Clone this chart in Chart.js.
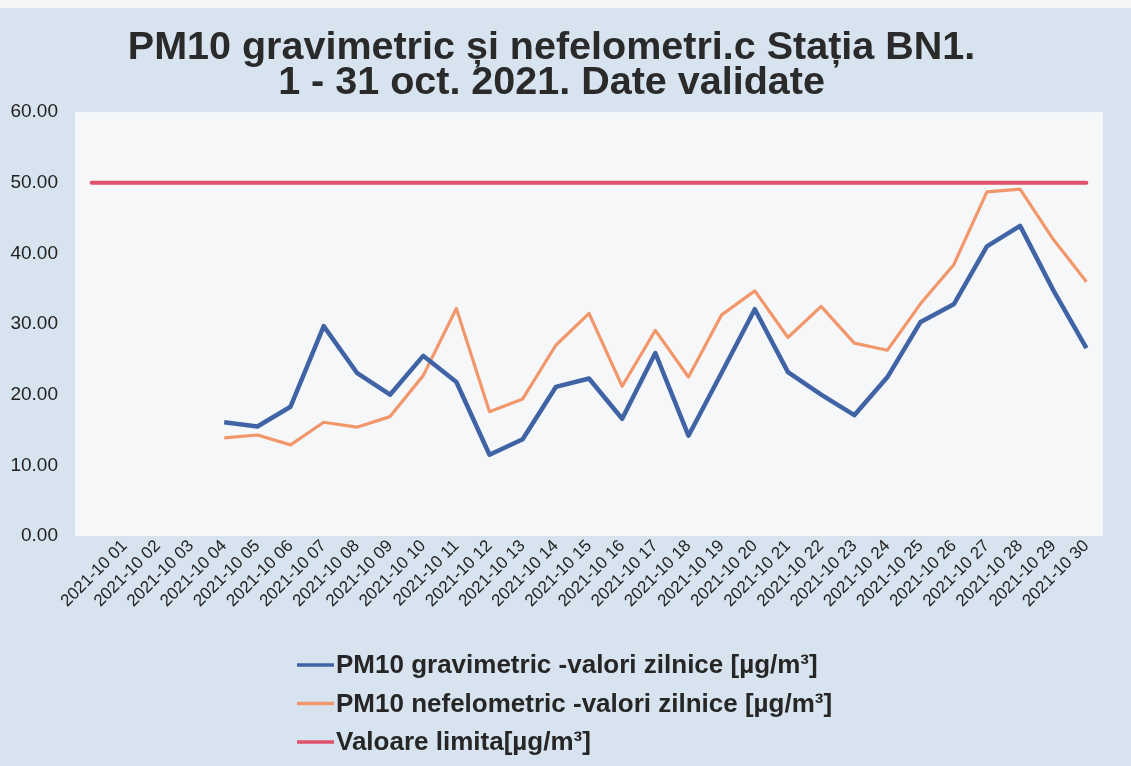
<!DOCTYPE html>
<html>
<head>
<meta charset="utf-8">
<script src="https://cdn.jsdelivr.net/npm/chart.js@4.4.0/dist/chart.umd.min.js"></script>
<style>
  html, body { margin: 0; padding: 0; background: #d7e3ee; }
  #wrap { position: relative; width: 1131px; height: 766px; }
  canvas { display: block; }
</style>
</head>
<body>
<div id="wrap"><canvas id="c" width="1131" height="766"></canvas></div>
<script>
// ---- data ----
const categories = ['',
  '2021-10 01','2021-10 02','2021-10 03','2021-10 04','2021-10 05','2021-10 06',
  '2021-10 07','2021-10 08','2021-10 09','2021-10 10','2021-10 11','2021-10 12',
  '2021-10 13','2021-10 14','2021-10 15','2021-10 16','2021-10 17','2021-10 18',
  '2021-10 19','2021-10 20','2021-10 21','2021-10 22','2021-10 23','2021-10 24',
  '2021-10 25','2021-10 26','2021-10 27','2021-10 28','2021-10 29','2021-10 30'];

const gravimetric = [null, null, null, null,
  16.1, 15.5, 18.3, 29.7, 23.1, 20.0, 25.5, 21.8, 11.5, 13.7, 21.1, 22.3,
  16.6, 25.9, 14.2, 23.1, 32.1, 23.2, 20.0, 17.1, 22.5, 30.3, 32.8, 41.0,
  43.9, 34.8, 26.6];

const nefelometric = [null, null, null, null,
  13.9, 14.3, 12.9, 16.1, 15.4, 16.9, 22.7, 32.2, 17.6, 19.4, 27.0, 31.5,
  21.2, 29.1, 22.5, 31.3, 34.7, 28.1, 32.5, 27.3, 26.3, 32.9, 38.4, 48.7,
  49.1, 42.0, 36.0];

const limita = [50, 50, 50, 50, 50, 50, 50, 50, 50, 50, 50, 50, 50, 50, 50, 50,
  50, 50, 50, 50, 50, 50, 50, 50, 50, 50, 50, 50, 50, 50, 50];

const seriesLabels = [
  'PM10 gravimetric -valori zilnice [µg/m³]',
  'PM10 nefelometric -valori zilnice [µg/m³]',
  'Valoare limita[µg/m³]'
];

const titleLines = [
  'PM10 gravimetric și nefelometri.c Stația BN1.',
  '1 - 31 oct. 2021. Date validate'
];

const FONT = '"Liberation Sans", Arial, sans-serif';

// ---- plugins ----
const bgPlugin = {
  id: 'bg',
  beforeDraw(chart) {
    const { ctx, chartArea: a } = chart;
    ctx.save();
    ctx.fillStyle = '#d7e3ee';
    ctx.fillRect(0, 0, chart.width, chart.height);
    ctx.fillStyle = '#f4f6f8';
    ctx.fillRect(0, 0, chart.width, 8);
    ctx.fillStyle = '#f6f7f8';
    ctx.fillRect(a.left, a.top, a.right - a.left, a.bottom - a.top);
    ctx.restore();
  }
};

const listLegend = {
  id: 'listLegend',
  afterDraw(chart) {
    const ctx = chart.ctx;
    ctx.save();
    ctx.font = 'bold 26px ' + FONT;
    ctx.textBaseline = 'middle';
    ctx.textAlign = 'left';
    chart.data.datasets.forEach((ds, i) => {
      const y = 665 + i * 38.5;
      ctx.strokeStyle = ds.borderColor;
      ctx.lineWidth = 3.5;
      ctx.beginPath();
      ctx.moveTo(297, y);
      ctx.lineTo(334, y);
      ctx.stroke();
      ctx.fillStyle = '#262626';
      ctx.fillText(ds.label, 336, y + 1);
    });
    ctx.restore();
  }
};

new Chart(document.getElementById('c'), {
  type: 'line',
  data: {
    labels: categories,
    datasets: [
      { label: seriesLabels[0], data: gravimetric, borderColor: '#3f63a5', borderWidth: 4.5,
        pointRadius: 0, tension: 0, borderJoinStyle: 'round' },
      { label: seriesLabels[1], data: nefelometric, borderColor: '#f2976b', borderWidth: 3.2,
        pointRadius: 0, tension: 0, borderJoinStyle: 'round' },
      { label: seriesLabels[2], data: limita, borderColor: '#e0526c', borderWidth: 3.8,
        pointRadius: 0, tension: 0, borderCapStyle: 'round' }
    ]
  },
  options: {
    responsive: false,
    animation: false,
    layout: { padding: { top: 12, right: 28, bottom: 0, left: 0 } },
    plugins: {
      legend: { display: false },
      tooltip: { enabled: false },
      title: {
        display: true,
        text: titleLines,
        color: '#2a2a2a',
        font: { family: FONT, size: 39.5, weight: 'bold', lineHeight: 0.9 },
        padding: { top: 18, bottom: 11 }
      }
    },
    scales: {
      x: {
        offset: true,
        grid: { display: false, drawTicks: false },
        border: { display: false },
        ticks: {
          autoSkip: false, maxRotation: 45, minRotation: 45, padding: 0,
          color: '#222222', font: { family: FONT, size: 17 }
        },
        afterFit(s) { s.height = 230; }
      },
      y: {
        min: 0, max: 60,
        grid: { display: false, drawTicks: false },
        border: { display: false },
        ticks: {
          stepSize: 10, padding: 17, color: '#222222',
          font: { family: FONT, size: 19 },
          callback: v => Number(v).toFixed(2)
        },
        afterFit(s) { s.width = 75; }
      }
    }
  },
  plugins: [bgPlugin, listLegend]
});
</script>
</body>
</html>
